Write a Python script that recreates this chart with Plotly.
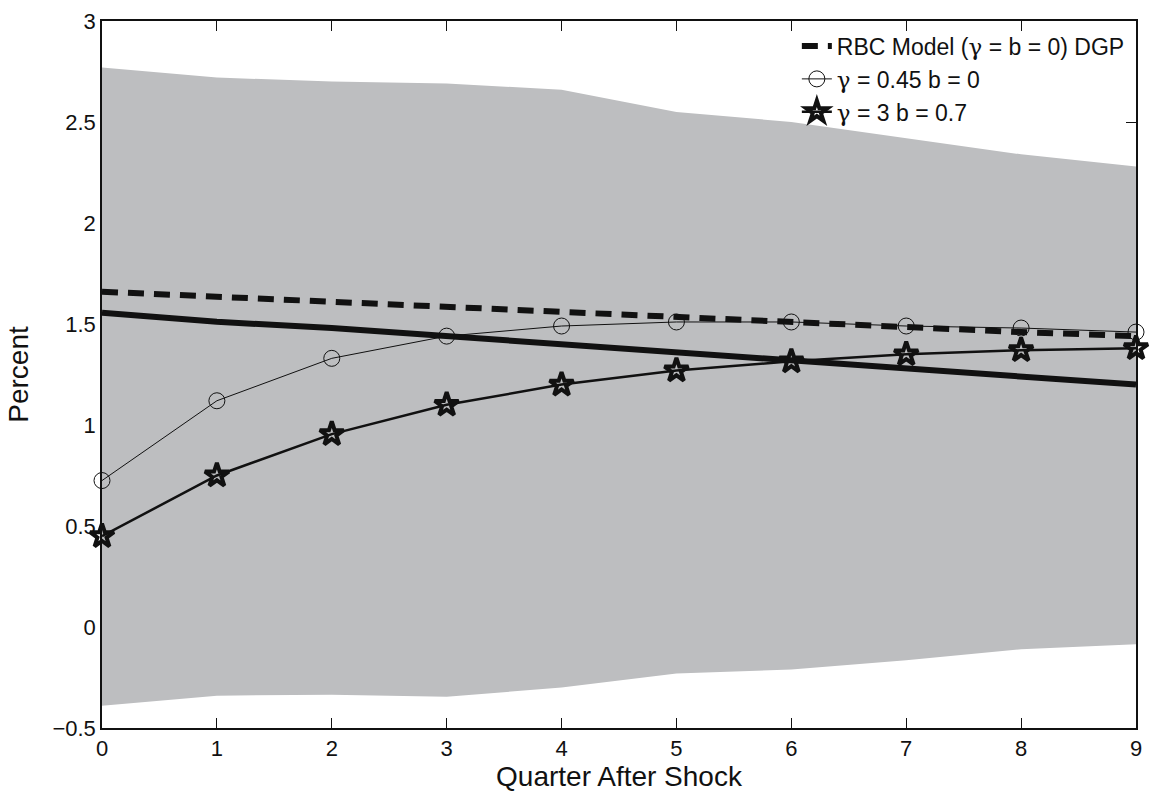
import plotly.graph_objects as go

quarters = [0, 1, 2, 3, 4, 5, 6, 7, 8, 9]
band_upper = [2.77, 2.72, 2.70, 2.69, 2.66, 2.55, 2.50, 2.42, 2.34, 2.28]
band_lower = [-0.39, -0.34, -0.335, -0.345, -0.30, -0.23, -0.21, -0.165, -0.11, -0.085]
rbc_dgp = [1.66, 1.635, 1.61, 1.585, 1.555, 1.53, 1.505, 1.48, 1.46, 1.44]
gamma045_b0 = [0.725, 1.12, 1.33, 1.44, 1.49, 1.51, 1.51, 1.49, 1.48, 1.46]
gamma3_b07 = [0.45, 0.75, 0.955, 1.10, 1.20, 1.27, 1.315, 1.35, 1.37, 1.38]
mean_line = [1.556, 1.511, 1.48, 1.44, 1.40, 1.355, 1.315, 1.275, 1.235, 1.20]

FONT = "Liberation Sans, Arial, Helvetica, sans-serif"
BAND = "#bdbec0"
G = '<span style="font-family:DejaVu Serif">γ</span>'

fig = go.Figure()
fig.add_trace(go.Scatter(x=quarters, y=band_upper, mode="lines", line=dict(width=0, color=BAND),
                         showlegend=False, hoverinfo="skip"))
fig.add_trace(go.Scatter(x=quarters, y=band_lower, mode="lines", line=dict(width=0, color=BAND),
                         fill="tonexty", fillcolor=BAND, showlegend=False, hoverinfo="skip"))
fig.add_trace(go.Scatter(x=quarters, y=rbc_dgp, mode="lines", name=f"RBC Model ({G} = b = 0) DGP",
                         line=dict(color="#111111", width=6, dash="16px,10px")))
fig.add_trace(go.Scatter(x=quarters, y=gamma045_b0, mode="lines+markers", name=f"{G} = 0.45 b = 0",
                         line=dict(color="#111111", width=1), cliponaxis=False,
                         marker=dict(symbol="circle-open", size=16, color="#111111", line=dict(width=1))))
fig.add_trace(go.Scatter(x=quarters, y=gamma3_b07, mode="lines+markers", name=f"{G} = 3 b = 0.7",
                         line=dict(color="#111111", width=2.5), cliponaxis=False,
                         marker=dict(symbol="star-open", size=18, color="#111111", line=dict(width=4))))
fig.add_trace(go.Scatter(x=quarters, y=mean_line, mode="lines", showlegend=False,
                         line=dict(color="#111111", width=6)))

fig.update_layout(
    width=1151, height=796,
    margin=dict(l=102, r=9, t=17, b=64),
    paper_bgcolor="white", plot_bgcolor="white",
    font=dict(family=FONT, size=22, color="#111111"),
    showlegend=True,
    legend=dict(x=0.672, y=0.995, xanchor="left", yanchor="top", bgcolor="rgba(0,0,0,0)",
                font=dict(size=23), tracegroupgap=0, traceorder="normal"),
    xaxis=dict(range=[0, 9], dtick=1, tick0=0, showgrid=False, zeroline=False,
               showline=True, linecolor="#111111", linewidth=1.5, mirror="ticks",
               ticks="inside", ticklen=10, tickcolor="#111111", layer="below traces",
               title=dict(text="Quarter After Shock", font=dict(size=28), standoff=6)),
    yaxis=dict(range=[-0.5, 3], dtick=0.5, tick0=0, showgrid=False, zeroline=False,
               showline=True, linecolor="#111111", linewidth=1.5, mirror="ticks",
               ticks="inside", ticklen=10, tickcolor="#111111", layer="below traces",
               title=dict(text="Percent", font=dict(size=28), standoff=16)),
)

fig.write_html("out.html")
